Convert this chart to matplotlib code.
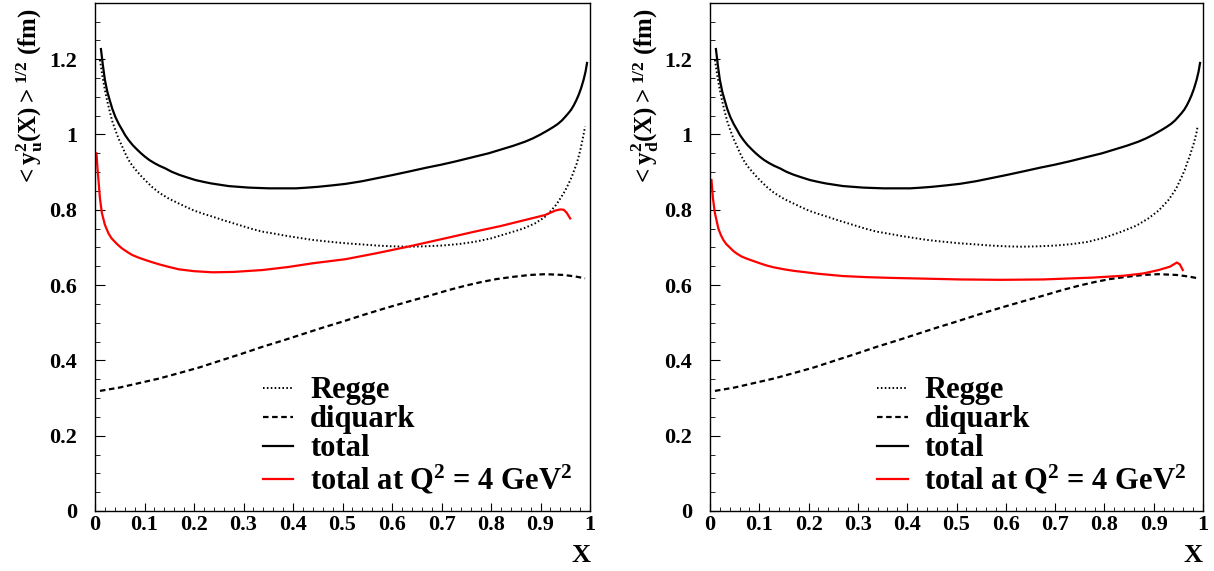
import matplotlib
matplotlib.use("Agg")
import matplotlib.pyplot as plt
from matplotlib.ticker import MultipleLocator, FuncFormatter

plt.rcParams['font.family'] = ['Liberation Serif', 'DejaVu Serif']
plt.rcParams['font.weight'] = 'bold'
plt.rcParams['axes.labelweight'] = 'bold'
plt.rcParams['mathtext.fontset'] = 'custom'
plt.rcParams['mathtext.rm'] = 'Liberation Serif:bold'
plt.rcParams['mathtext.it'] = 'Liberation Serif:bold'
plt.rcParams['mathtext.bf'] = 'Liberation Serif:bold'
plt.rcParams['mathtext.default'] = 'rm'

# total (same in both panels)
x_total = [0.012, 0.016, 0.02, 0.025, 0.03, 0.035, 0.041, 0.048, 0.055, 0.061, 0.068, 0.076, 0.085,
           0.093, 0.101, 0.11, 0.12, 0.13, 0.142, 0.155, 0.17, 0.186, 0.203, 0.22, 0.235, 0.25,
           0.27, 0.29, 0.31, 0.33, 0.352, 0.38, 0.406, 0.43, 0.45, 0.48, 0.507, 0.54, 0.57, 0.6,
           0.632, 0.67, 0.7, 0.73, 0.767, 0.795, 0.82, 0.845, 0.869, 0.885, 0.9, 0.916, 0.926,
           0.935, 0.943, 0.95, 0.956, 0.962, 0.967, 0.972, 0.977, 0.982, 0.987, 0.991, 0.994]
y_total = [1.227, 1.183, 1.145, 1.113, 1.09, 1.068, 1.047, 1.028, 1.012, 0.998, 0.985, 0.972, 0.96,
           0.95, 0.941, 0.932, 0.924, 0.917, 0.91, 0.901, 0.893, 0.886, 0.879, 0.874, 0.87, 0.867,
           0.863, 0.861, 0.859, 0.858, 0.857, 0.857, 0.857, 0.859, 0.861, 0.865, 0.869, 0.876,
           0.884, 0.892, 0.901, 0.912, 0.92, 0.929, 0.941, 0.95, 0.96, 0.97, 0.981, 0.99, 1.0,
           1.012, 1.02, 1.028, 1.037, 1.047, 1.056, 1.066, 1.077, 1.09, 1.105, 1.123, 1.145,
           1.167, 1.19]

# Regge
x_regge_u = [0.01, 0.015, 0.02, 0.025, 0.03, 0.035, 0.041, 0.048, 0.055, 0.061, 0.068, 0.076,
             0.085, 0.093, 0.101, 0.115, 0.13, 0.15, 0.169, 0.185, 0.2, 0.22, 0.237, 0.26, 0.29,
             0.315, 0.338, 0.365, 0.39, 0.415, 0.44, 0.475, 0.507, 0.54, 0.57, 0.6, 0.632, 0.665,
             0.7, 0.735, 0.767, 0.8, 0.835, 0.865, 0.889, 0.908, 0.923, 0.932, 0.94, 0.949, 0.957,
             0.963, 0.968, 0.973, 0.977, 0.981, 0.984, 0.987, 0.99]
y_regge_u = [1.198, 1.155, 1.118, 1.087, 1.06, 1.035, 1.012, 0.988, 0.968, 0.95, 0.932, 0.916,
             0.902, 0.89, 0.879, 0.861, 0.845, 0.829, 0.817, 0.807, 0.798, 0.789, 0.782, 0.772,
             0.76, 0.75, 0.742, 0.736, 0.73, 0.725, 0.72, 0.715, 0.711, 0.708, 0.705, 0.703, 0.702,
             0.703, 0.705, 0.709, 0.715, 0.724, 0.738, 0.75, 0.764, 0.78, 0.8, 0.814, 0.83, 0.849,
             0.87, 0.887, 0.905, 0.922, 0.941, 0.962, 0.98, 1.0, 1.021]
x_regge_d = [0.01, 0.015, 0.02, 0.025, 0.03, 0.035, 0.041, 0.048, 0.055, 0.061, 0.068, 0.076,
             0.085, 0.093, 0.101, 0.115, 0.13, 0.15, 0.169, 0.185, 0.2, 0.22, 0.237, 0.26, 0.29,
             0.315, 0.338, 0.365, 0.39, 0.415, 0.44, 0.475, 0.507, 0.54, 0.57, 0.6, 0.632, 0.665,
             0.7, 0.735, 0.767, 0.8, 0.835, 0.865, 0.889, 0.91, 0.93, 0.945, 0.957, 0.963, 0.968,
             0.973, 0.977, 0.981, 0.984, 0.987, 0.989]
y_regge_d = [1.198, 1.155, 1.118, 1.087, 1.06, 1.035, 1.012, 0.988, 0.968, 0.95, 0.932, 0.916,
             0.902, 0.89, 0.879, 0.861, 0.845, 0.829, 0.817, 0.807, 0.798, 0.789, 0.782, 0.772,
             0.76, 0.75, 0.742, 0.736, 0.73, 0.725, 0.72, 0.715, 0.711, 0.708, 0.705, 0.703, 0.702,
             0.703, 0.705, 0.709, 0.715, 0.726, 0.742, 0.758, 0.777, 0.798, 0.826, 0.855, 0.888,
             0.906, 0.925, 0.942, 0.959, 0.975, 0.99, 1.006, 1.021]

# diquark (same in both panels)
x_diq = [0.01, 0.05, 0.09, 0.13, 0.169, 0.21, 0.25, 0.295, 0.338, 0.38, 0.42, 0.46, 0.5, 0.545,
         0.59, 0.635, 0.676, 0.715, 0.75, 0.78, 0.811, 0.845, 0.879, 0.91, 0.946, 0.97, 0.99]
y_diq = [0.319, 0.328, 0.34, 0.352, 0.366, 0.381, 0.398, 0.417, 0.436, 0.453, 0.47, 0.487, 0.503,
         0.522, 0.54, 0.557, 0.572, 0.587, 0.599, 0.608, 0.616, 0.622, 0.627, 0.629, 0.627,
         0.623, 0.618]

# total at Q^2 = 4 GeV^2
x_q2_u = [0.003, 0.005, 0.007, 0.01, 0.014, 0.02, 0.027, 0.033, 0.04, 0.047, 0.054, 0.064, 0.075,
          0.088, 0.101, 0.115, 0.13, 0.15, 0.169, 0.2, 0.237, 0.28, 0.338, 0.39, 0.44, 0.507,
          0.57, 0.632, 0.7, 0.767, 0.82, 0.869, 0.909, 0.93, 0.94, 0.947, 0.953, 0.96]
y_q2_u = [0.95, 0.91, 0.879, 0.83, 0.791, 0.76, 0.738, 0.725, 0.715, 0.706, 0.698, 0.689, 0.68,
          0.673, 0.667, 0.661, 0.655, 0.648, 0.642, 0.637, 0.634, 0.635, 0.64, 0.648, 0.658,
          0.669, 0.685, 0.702, 0.722, 0.742, 0.757, 0.773, 0.786, 0.798, 0.801, 0.8, 0.792,
          0.777]
x_q2_d = [0.003, 0.006, 0.01, 0.017, 0.022, 0.027, 0.033, 0.04, 0.047, 0.054, 0.064, 0.075, 0.088,
          0.101, 0.115, 0.13, 0.15, 0.169, 0.195, 0.22, 0.27, 0.32, 0.372, 0.44, 0.507, 0.59,
          0.676, 0.777, 0.84, 0.879, 0.91, 0.933, 0.947, 0.953, 0.959]
y_q2_d = [0.879, 0.83, 0.791, 0.75, 0.733, 0.72, 0.709, 0.7, 0.691, 0.684, 0.676, 0.67, 0.664,
          0.658, 0.652, 0.647, 0.642, 0.638, 0.634, 0.63, 0.624, 0.621, 0.619, 0.617, 0.615,
          0.614, 0.615, 0.62, 0.625, 0.631, 0.64, 0.649, 0.66, 0.655, 0.64]

legend_labels = ['Regge', 'diquark', 'total', r'total at Q$^{2}$ = 4 GeV$^{2}$']
ylabels = [r'$< y_{u}^{2}(X) >^{1/2}$ (fm)', r'$< y_{d}^{2}(X) >^{1/2}$ (fm)']

panels = [
    (95, 495, 30, x_regge_u, y_regge_u, x_q2_u, y_q2_u),
    (710, 493, 645, x_regge_d, y_regge_d, x_q2_d, y_q2_d),
]

W, H = 1214, 571
fig = plt.figure(figsize=(W / 100, H / 100), dpi=100)

for i, (left, width, ylab_x, xr, yr, xq, yq) in enumerate(panels):
    ax = fig.add_axes([left / W, (H - 511) / H, width / W, 508 / H])
    l1, = ax.plot(xr, yr, color='black', lw=1.4, linestyle=(0, (0.8, 1.2)))
    l2, = ax.plot(x_diq, y_diq, color='black', lw=1.6, linestyle=(0, (2.5, 1.6)))
    l3, = ax.plot(x_total, y_total, color='black', lw=1.6)
    l4, = ax.plot(xq, yq, color='red', lw=1.6)
    ax.set_xlim(0, 1)
    ax.set_ylim(0, 508 / 376.5)
    ax.xaxis.set_major_locator(MultipleLocator(0.1))
    ax.xaxis.set_minor_locator(MultipleLocator(0.02))
    ax.yaxis.set_major_locator(MultipleLocator(0.2))
    ax.yaxis.set_minor_locator(MultipleLocator(0.05))
    fmt = FuncFormatter(lambda v, p: '%g' % round(v, 2))
    ax.xaxis.set_major_formatter(fmt)
    ax.yaxis.set_major_formatter(fmt)
    ax.tick_params(which='both', direction='in', top=False, right=False, labelsize=16)
    ax.tick_params(axis='x', which='major', length=6, pad=3)
    ax.tick_params(axis='x', which='minor', length=3)
    ax.tick_params(axis='y', which='major', length=7, pad=13)
    ax.tick_params(axis='y', which='minor', length=3.5)
    for s in ax.spines.values():
        s.set_linewidth(1.0)
    ax.set_xlabel('X', loc='right', fontsize=19, fontweight='bold', labelpad=6)
    fig.text(ylab_x / W, 1 - 8 / H, ylabels[i], rotation=90, ha='center', va='top', fontsize=18)
    ax.legend([l1, l2, l3, l4], legend_labels, loc='upper left', bbox_to_anchor=(0.339, 0.265),
              frameon=False, fontsize=22, handlelength=1.0, handletextpad=0.55,
              labelspacing=0.0, borderpad=0, borderaxespad=0)

fig.savefig('out.png', dpi=100)
